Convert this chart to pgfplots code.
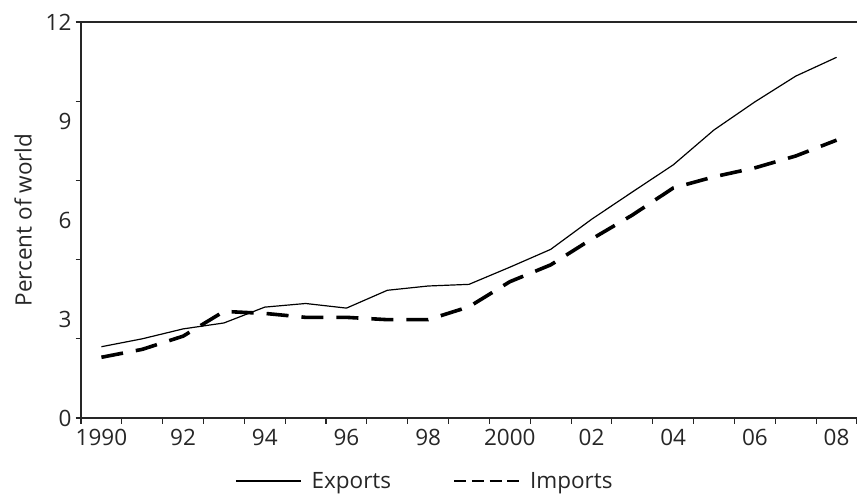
\documentclass[border=0pt]{standalone}
\usepackage{fontspec}
\setmainfont{Open Sans}
\usepackage{pgfplots}
\pgfplotsset{compat=1.18}
\newcommand\fs{\fontsize{22.5}{26}\selectfont}
\begin{document}
\begin{tikzpicture}
\begin{axis}[
  at={(0pt,0pt)}, anchor=south west,
  scale only axis,
  width=776pt, height=396pt,
  xmin=1989.5, xmax=2008.5,
  ymin=0, ymax=12,
  axis x line*=bottom, axis y line*=left,
  axis line style={line width=1.2pt, black!85},
  tick align=outside,
  major tick length=0pt,
  minor tick length=5.5pt,
  every minor tick/.style={line width=1.1pt, black!85},
  xtick={1990,1992,...,2008},
  xticklabels={1990,92,94,96,98,2000,02,04,06,08},
  minor xtick={1989.5,1990.5,...,2008.6},
  ytick={0,3,6,9,12},
  yticklabels={0,3,6,9,12},
  minor ytick={0,2.4,4.8,7.2,9.6,12},
  xticklabel style={font=\fs, yshift=-8pt, black!85},
  yticklabel style={font=\fs, xshift=-6pt, black!85},
  ylabel={Percent of world},
  ylabel style={font=\fs, black!85},
  ylabel shift=7pt,
  clip=false,
  legend columns=2,
  legend style={draw=none, fill=none, font=\fs, text=black!85,
    at={(rel axis cs:0.443,-0.159)}, anchor=center,
    /tikz/every odd column/.append style={column sep=8pt},
    /tikz/every even column/.append style={column sep=60pt}},
]
\addplot[black, line width=1.2pt, legend image code/.code={\draw[black, line width=1.6pt] (0pt,0pt) -- (65pt,0pt);}]
 coordinates {
 (1990,2.16) (1991,2.40) (1992,2.70) (1993,2.88) (1994,3.36) (1995,3.47)
 (1996,3.33) (1997,3.87) (1998,4.00) (1999,4.05) (2000,4.57) (2001,5.11)
 (2002,6.02) (2003,6.85) (2004,7.67) (2005,8.73) (2006,9.58) (2007,10.36)
 (2008,10.93)};
\addlegendentry{Exports}
\addplot[black, line width=3.6pt, dash pattern=on 22pt off 13pt,
  legend image code/.code={\draw[black, line width=2pt, dash pattern=on 12pt off 5.7pt] (0pt,0pt) -- (65pt,0pt);}]
 coordinates {
 (1990,1.84) (1991,2.08) (1992,2.48) (1993,3.23) (1994,3.17) (1995,3.05)
 (1996,3.05) (1997,2.98) (1998,2.98) (1999,3.37) (2000,4.13) (2001,4.64)
 (2002,5.42) (2003,6.15) (2004,6.97) (2005,7.31) (2006,7.58) (2007,7.94)
 (2008,8.42)};
\addlegendentry{Imports}
\draw[line width=1.2pt, black!85] (rel axis cs:0,1) -- (rel axis cs:1,1);
\end{axis}
\pgfresetboundingbox
\path[use as bounding box] (-81pt,-75pt) rectangle (776pt,418pt);
\end{tikzpicture}
\end{document}
